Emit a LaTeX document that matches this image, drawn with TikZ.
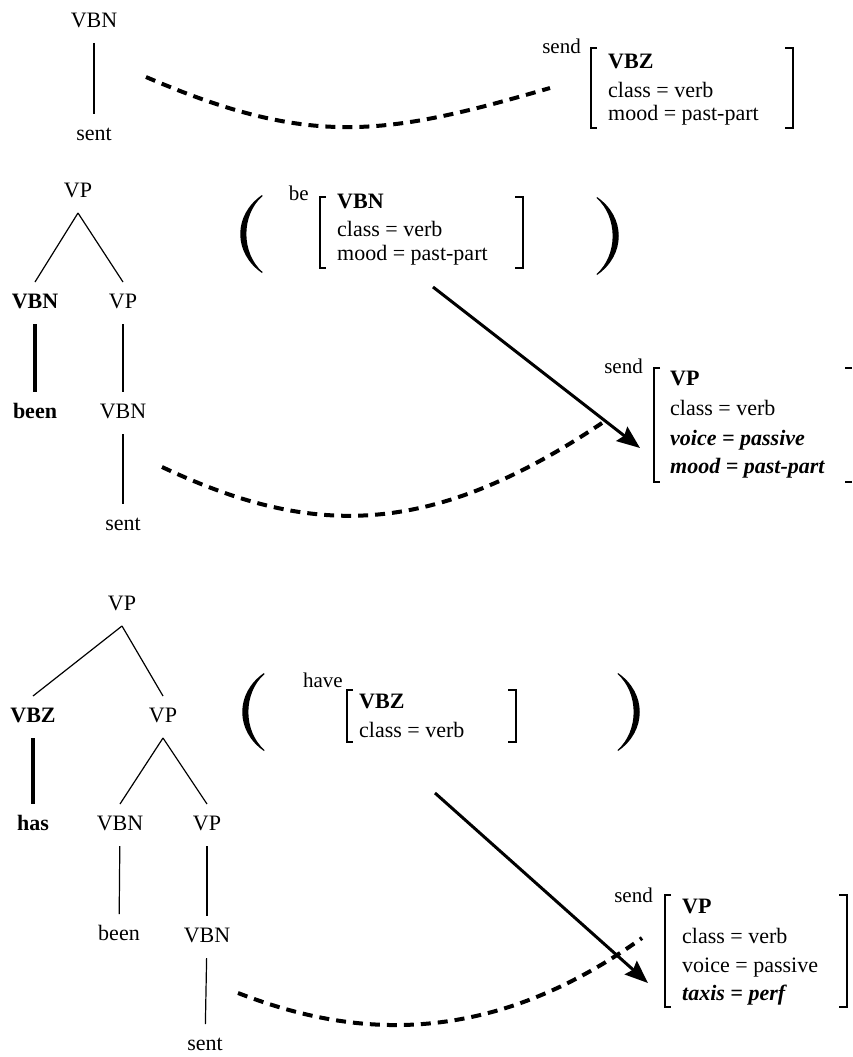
\documentclass[tikz,border=0pt]{standalone}
\usepackage{fontspec}
\setmainfont{Liberation Serif}
\usetikzlibrary{arrows.meta}

\newcommand{\rmtext}{\fontsize{22}{26}\selectfont}

\tikzset{
  lparen/.pic={\fill (11,-39) .. controls (-18,-19) and (-18,19) .. (11,39)
     -- (11.5,38) .. controls (-10,19) and (-10,-19) .. (11.5,-38) -- cycle;},
  rparen/.pic={\fill (-11,-39) .. controls (18,-19) and (18,19) .. (-11,39)
     -- (-11.5,38) .. controls (10,19) and (10,-19) .. (-11.5,-38) -- cycle;},
}

\begin{document}
\begin{tikzpicture}[x=1pt,y=-1pt,
  every node/.style={font=\rmtext, inner sep=0pt},
  cat/.style={text height=15pt, text depth=4pt, outer ysep=11.5pt},
  catb/.style={cat, font=\rmtext\bfseries},
  branch/.style={line width=1.2pt},
  headline/.style={line width=4pt},
  feat/.style={anchor=base west},
  featb/.style={feat, font=\rmtext\bfseries},
  featbi/.style={feat, font=\rmtext\bfseries\itshape},
  tag/.style={anchor=base east, font=\fontsize{21}{24}\selectfont},
  brk/.style={line width=1.3pt},
  hook/.style={line width=4pt, dash pattern=on 10pt off 7pt},
  rule/.style={line width=3pt, -{Stealth[length=23pt,width=18pt,inset=3pt]}},
]
\useasboundingbox (0,0) rectangle (852,1057);

% ---------- first tree: VBN over sent ----------
\node[cat] (t1vbn) at (94,22) {VBN};
\node[cat] (t1sent) at (94,135) {sent};
\draw[branch] (t1vbn) -- (t1sent);

% send-VBZ feature structure
\node[tag] (s1) at (581,54) {send};
\node[featb] (s1h) at (608,69) {VBZ};
\node[feat] (s1a) at (608,97) {class = verb};
\node[feat] (s1b) at (608,120) {mood = past-part};
\draw[brk] (597,48) -- (591,48) -- (591,128) -- (597,128);
\draw[brk] (785,48) -- (793,48) -- (793,128) -- (785,128);

\coordinate (d1a) at (146,77);
\coordinate (d1b) at (550,88);
\draw[hook] (d1a) .. controls (311,148) and (385,136) .. (d1b);

% ---------- second tree: passive ----------
\node[cat] (t2vp) at (78,192) {VP};
\node[catb] (t2vbn) at (35,303) {VBN};
\node[cat] (t2vp2) at (123,303) {VP};
\node[catb] (t2been) at (35,413) {been};
\node[cat] (t2vbn2) at (123,413) {VBN};
\node[cat] (t2sent) at (123,525) {sent};
\draw[branch] (t2vp.south) -- (t2vbn.north);
\draw[branch] (t2vp.south) -- (t2vp2.north);
\draw[headline] (t2vbn) -- (t2been);
\draw[branch] (t2vp2) -- (t2vbn2);
\draw[branch] (t2vbn2) -- (t2sent);

% be-VBN feature structure in parentheses
\pic at (251,234) {lparen};
\pic at (608,236) {rparen};
\node[tag] (b2) at (309,200) {be};
\node[featb] (b2h) at (337,208) {VBN};
\node[feat] (b2a) at (337,236) {class = verb};
\node[feat] (b2b) at (337,260) {mood = past-part};
\draw[brk] (326,197) -- (320,197) -- (320,268) -- (326,268);
\draw[brk] (515,197) -- (523,197) -- (523,268) -- (515,268);

% send-VP feature structure
\node[tag] (s2) at (643,373) {send};
\node[featb] (s2h) at (670,385) {VP};
\node[feat] (s2a) at (670,415) {class = verb};
\node[featbi] (s2b) at (670,445) {voice = passive};
\node[featbi] (s2c) at (670,473) {mood = past-part};
\draw[brk] (660,368) -- (654,368) -- (654,482) -- (660,482);
\draw[brk] (845,368) -- (852,368);
\draw[brk] (845,482) -- (852,482);

\coordinate (a2s) at (433,287);
\coordinate (a2e) at (640,448);
\draw[rule] (a2s) -- (a2e);
\coordinate (d2a) at (162,467);
\coordinate (d2b) at (602,423);
\draw[hook] (d2a) .. controls (307,535) and (425,542) .. (d2b);

% ---------- third tree: perfect passive ----------
\node[cat] (t3vp) at (122,605) {VP};
\node[catb] (t3vbz) at (33,717) {VBZ};
\node[cat] (t3vp2) at (163,717) {VP};
\node[catb] (t3has) at (33,825) {has};
\node[cat] (t3vbn) at (120,825) {VBN};
\node[cat] (t3vp3) at (207,825) {VP};
\node[cat] (t3been) at (119,935) {been};
\node[cat] (t3vbn2) at (207,937) {VBN};
\node[cat] (t3sent) at (205,1045) {sent};
\draw[branch] (t3vp.south) -- (t3vbz.north);
\draw[branch] (t3vp.south) -- (t3vp2.north);
\draw[headline] (t3vbz) -- (t3has);
\draw[branch] (t3vp2.south) -- (t3vbn.north);
\draw[branch] (t3vp2.south) -- (t3vp3.north);
\draw[branch] (t3vbn) -- (t3been);
\draw[branch] (t3vp3) -- (t3vbn2);
\draw[branch] (t3vbn2) -- (t3sent);

% have-VBZ feature structure in parentheses
\pic at (253,712) {lparen};
\pic at (629,712) {rparen};
\node[tag] (h3) at (343,687) {have};
\node[featb] (h3h) at (359,708) {VBZ};
\node[feat] (h3a) at (359,737) {class = verb};
\draw[brk] (353,690) -- (347,690) -- (347,742) -- (353,742);
\draw[brk] (508,690) -- (516,690) -- (516,742) -- (508,742);

% send-VP feature structure
\node[tag] (s3) at (653,902) {send};
\node[featb] (s3h) at (682,913) {VP};
\node[feat] (s3a) at (682,943) {class = verb};
\node[feat] (s3b) at (682,972) {voice = passive};
\node[featbi] (s3c) at (682,1000) {taxis = perf};
\draw[brk] (671,895) -- (665,895) -- (665,1007) -- (671,1007);
\draw[brk] (839,895) -- (847,895) -- (847,1007) -- (839,1007);

\coordinate (a3s) at (435,793);
\coordinate (a3e) at (648,983);
\draw[rule] (a3s) -- (a3e);
\coordinate (d3a) at (238,993);
\coordinate (d3b) at (642,938);
\draw[hook] (d3a) .. controls (329,1028) and (471,1061) .. (d3b);

\end{tikzpicture}
\end{document}
